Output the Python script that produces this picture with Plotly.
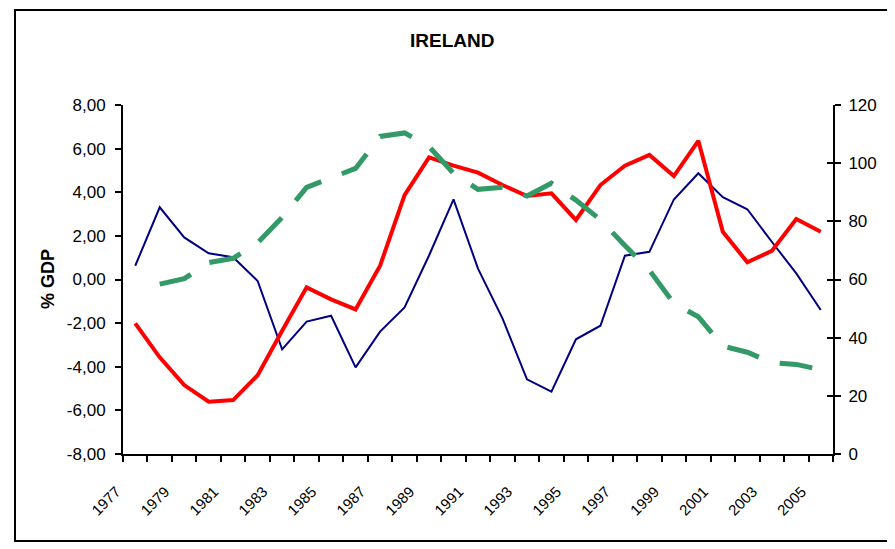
import plotly.graph_objects as go

# ---------------- data ----------------
years = list(range(1977, 2006))

blue_series = [0.63, 3.31, 1.93, 1.20, 1.02, -0.07, -3.20, -1.93, -1.66, -4.03,
               -2.39, -1.28, 1.10, 3.67, 0.50, -1.78, -4.58, -5.14, -2.74, -2.12,
               1.09, 1.27, 3.67, 4.87, 3.77, 3.22, 1.73, 0.28, -1.40]

red_series = [-2.01, -3.57, -4.84, -5.60, -5.53, -4.39, -2.35, -0.36, -0.91, -1.37,
              0.63, 3.87, 5.60, 5.22, 4.90, 4.33, 3.83, 3.95, 2.73, 4.33,
              5.22, 5.71, 4.74, 6.36, 2.19, 0.79, 1.31, 2.77, 2.19]

green_series = [None, 58.4, 60.3, 65.8, 67.3, 72.6, 81.4, 91.7, 95.1, 98.2,
                109.2, 110.4, 105.7, 96.5, 91.0, 91.7, 88.7, 93.1, 87.3, 80.5,
                71.7, 63.2, 51.8, 47.2, 37.1, 35.0, 31.4, 30.8, 29.0]

x_label_years = list(range(1977, 2006, 2))
x_label_text = [str(y) for y in x_label_years]

left_tickvals = [-8, -6, -4, -2, 0, 2, 4, 6, 8]
left_ticktext = ["-8,00", "-6,00", "-4,00", "-2,00", "0,00", "2,00", "4,00", "6,00", "8,00"]
right_tickvals = [0, 20, 40, 60, 80, 100, 120]

title_text = "IRELAND"
y_title_text = "% GDP"

# ---------------- layout geometry ----------------
# the page body adds an 8px offset, so figure coords = page coords - 8
OFF = 8
W, H = 895 - OFF, 549 - OFF
PL, PR, PT, PB = 123 - OFF, 833 - OFF, 105 - OFF, 454 - OFF  # plot area (figure px)


def px_x(page_px):
    return (page_px - OFF - PL) / (PR - PL)


def px_y(page_py):
    return (PB - (page_py - OFF)) / (PB - PT)


FONT = "Arial, Liberation Sans, sans-serif"

fig = go.Figure()

fig.add_trace(go.Scatter(x=years, y=blue_series, mode="lines",
                         line=dict(color="#000080", width=2),
                         yaxis="y", showlegend=False))
fig.add_trace(go.Scatter(x=years, y=red_series, mode="lines",
                         line=dict(color="#FF0000", width=4),
                         yaxis="y", showlegend=False))
fig.add_trace(go.Scatter(x=years, y=green_series, mode="lines",
                         line=dict(color="#339966", width=5, dash="33px,22px"),
                         connectgaps=False, yaxis="y2", showlegend=False))
# empty helper trace so the right-hand "cross" tick axis is drawn
fig.add_trace(go.Scatter(x=[None], y=[None], mode="lines", yaxis="y3",
                         showlegend=False, hoverinfo="skip"))

fig.update_layout(
    width=W, height=H,
    margin=dict(l=PL, r=W - PR, t=PT, b=H - PB, pad=0),
    paper_bgcolor="white", plot_bgcolor="white",
    font=dict(family=FONT, color="black"),
    showlegend=False,
    xaxis=dict(
        type="linear", range=[1976.5, 2005.5],
        tickvals=x_label_years, ticktext=x_label_text,
        ticks="", tickangle=-45,
        tickfont=dict(family=FONT, size=15, color="black"),
        ticklabelshift=-19, ticklabelstandoff=21,
        showline=True, linecolor="black", linewidth=2,
        showgrid=False, zeroline=False,
        minor=dict(ticks="outside", tick0=1976.5, dtick=1, ticklen=6,
                   tickwidth=2, tickcolor="black", showgrid=False),
    ),
    yaxis=dict(
        range=[-8, 8], tickvals=left_tickvals, ticktext=left_ticktext,
        ticks="outside", ticklen=6, tickwidth=2, tickcolor="black",
        tickfont=dict(family=FONT, size=17, color="black"),
        ticklabelstandoff=6,
        showline=True, linecolor="black", linewidth=2,
        showgrid=False, zeroline=False,
    ),
    yaxis2=dict(
        range=[0, 120], tickvals=right_tickvals,
        overlaying="y", side="right", anchor="x",
        ticks="outside", ticklen=6, tickwidth=2, tickcolor="black",
        tickfont=dict(family=FONT, size=17, color="black"),
        ticklabelstandoff=4,
        showline=True, linecolor="black", linewidth=2,
        showgrid=False, zeroline=False,
    ),
    yaxis3=dict(
        range=[0, 120], tickvals=right_tickvals,
        overlaying="y", side="right", anchor="x",
        ticks="inside", ticklen=6, tickwidth=2, tickcolor="black",
        showticklabels=False, showline=False,
        showgrid=False, zeroline=False,
    ),
    annotations=[
        dict(text="<b>%s</b>" % title_text, xref="paper", yref="paper",
             x=px_x(452), y=px_y(41), xanchor="center", yanchor="middle",
             showarrow=False,
             font=dict(family=FONT, size=19, color="black")),
        dict(text="<b>%s</b>" % y_title_text, xref="paper", yref="paper",
             x=px_x(48), y=px_y(279), xanchor="center", yanchor="middle",
             textangle=-90, showarrow=False,
             font=dict(family=FONT, size=18, color="black")),
    ],
    shapes=[
        # inner chart frame
        dict(type="rect", xref="paper", yref="paper",
             x0=px_x(15), x1=px_x(891), y0=px_y(541), y1=px_y(10),
             line=dict(color="black", width=2), fillcolor="rgba(0,0,0,0)", layer="above"),
    ],
)

fig.write_html("out.html")
